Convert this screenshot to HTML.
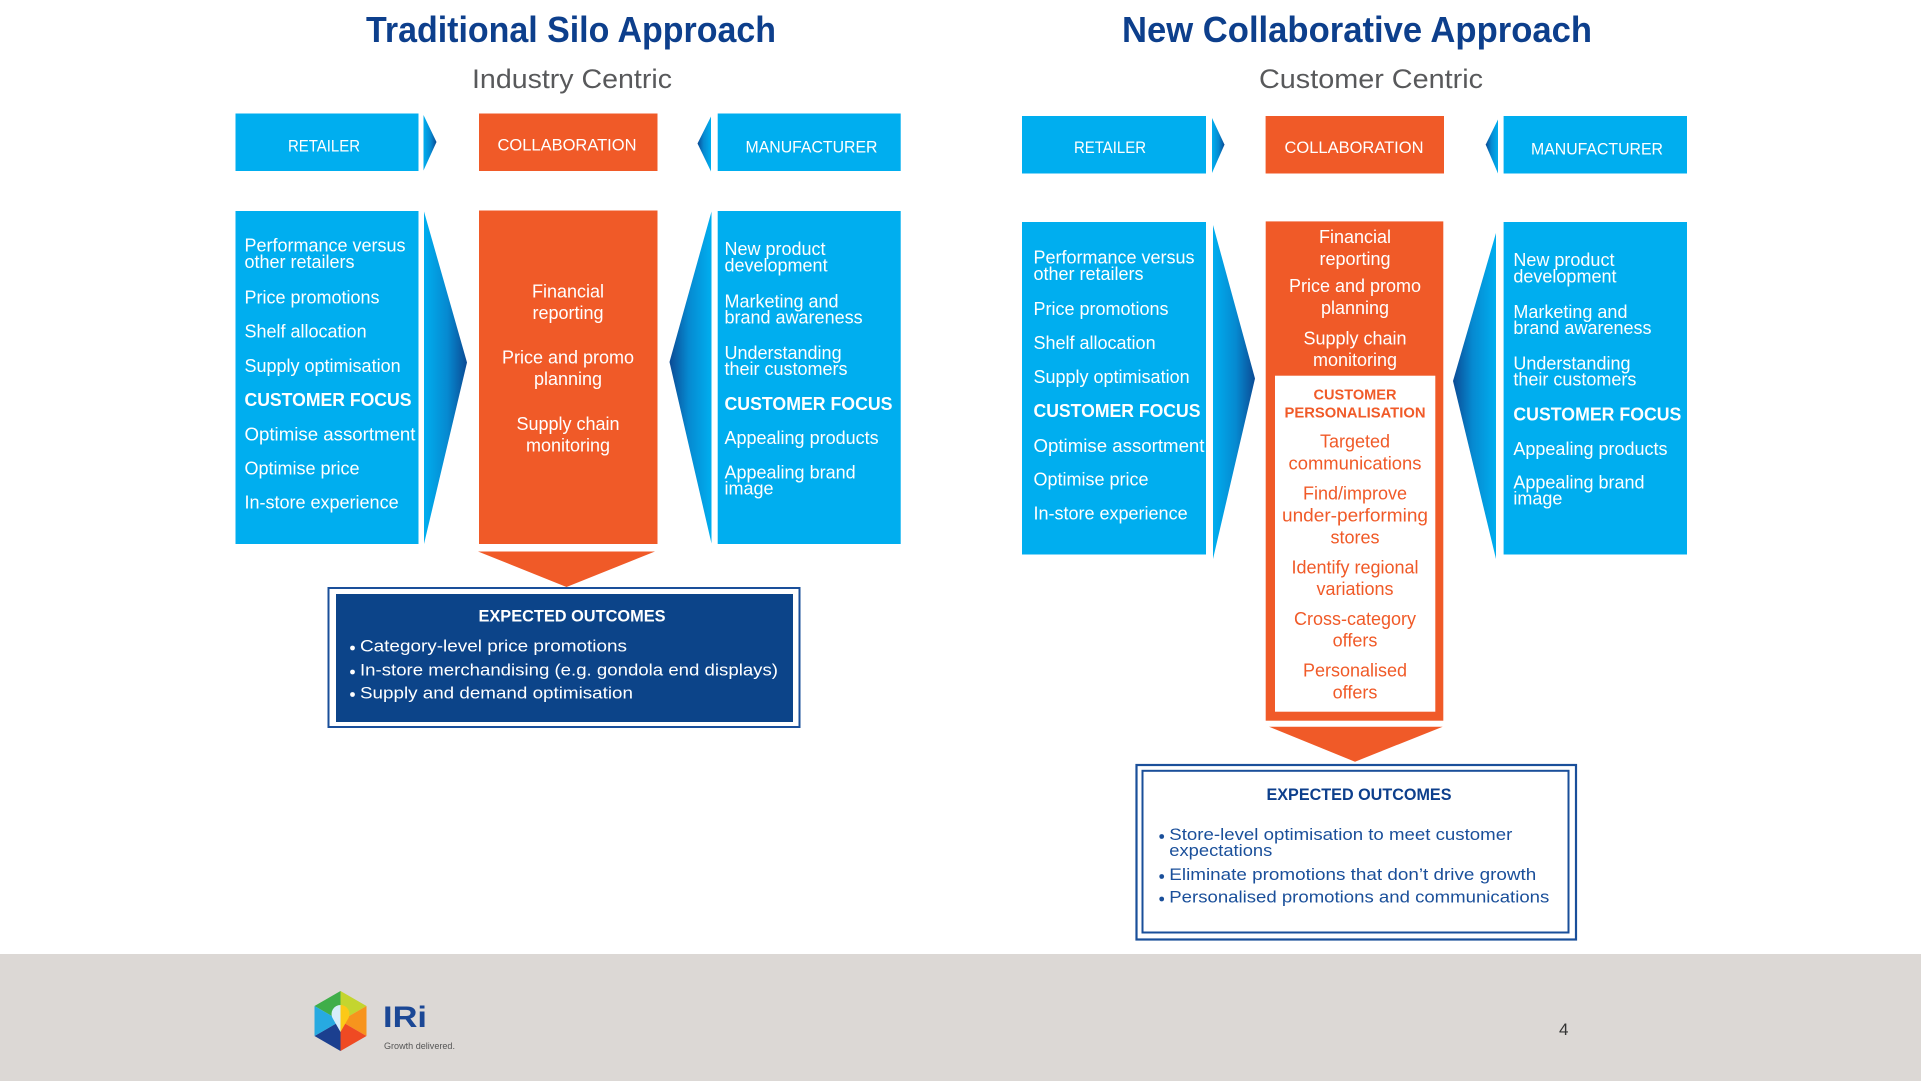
<!DOCTYPE html>
<html><head><meta charset="utf-8"><style>
html,body{margin:0;padding:0;background:#fff;}
svg{display:block;}
text{font-family:"Liberation Sans",Arial,sans-serif;}
</style></head><body>
<svg width="1921" height="1081" viewBox="0 0 1921 1081" xmlns="http://www.w3.org/2000/svg">
<defs>
<linearGradient id="gR" x1="0" y1="0" x2="1" y2="0">
<stop offset="0" stop-color="#00aeef"/><stop offset="0.55" stop-color="#0689d0"/><stop offset="1" stop-color="#0b4a94"/>
</linearGradient>
<linearGradient id="gL" x1="1" y1="0" x2="0" y2="0">
<stop offset="0" stop-color="#00aeef"/><stop offset="0.55" stop-color="#0689d0"/><stop offset="1" stop-color="#0b4a94"/>
</linearGradient>
</defs>
<rect width="1921" height="1081" fill="#fff"/>

<!-- ============ LEFT PANEL ============ -->
<text x="571" y="42" text-anchor="middle" font-size="36" font-weight="bold" fill="#0d3f8c" textLength="410" lengthAdjust="spacingAndGlyphs">Traditional Silo Approach</text>
<text x="572" y="88" text-anchor="middle" font-size="27" fill="#58595b" textLength="200" lengthAdjust="spacingAndGlyphs">Industry Centric</text>

<!-- header row -->
<rect x="235.5" y="113.5" width="183" height="57.5" fill="#00aeef"/>
<polygon points="423.5,115 436.5,142 423.5,170.5" fill="url(#gR)"/>
<rect x="479" y="113.5" width="178.5" height="57.5" fill="#f05a28"/>
<polygon points="711,116.5 697.5,143.5 711,171.5" fill="url(#gL)"/>
<rect x="717.7" y="113.5" width="183" height="57.5" fill="#00aeef"/>
<text x="324" y="151.5" text-anchor="middle" font-size="16.5" fill="#fff" textLength="72" lengthAdjust="spacingAndGlyphs">RETAILER</text>
<text x="567" y="150.5" text-anchor="middle" font-size="16.5" fill="#fff" textLength="139" lengthAdjust="spacingAndGlyphs">COLLABORATION</text>
<text x="811.5" y="152.5" text-anchor="middle" font-size="16.5" fill="#fff" textLength="132" lengthAdjust="spacingAndGlyphs">MANUFACTURER</text>

<!-- body row -->
<rect x="235.5" y="211" width="183" height="333" fill="#00aeef"/>
<polygon points="424,211.5 467,362.5 424,544" fill="url(#gR)"/>
<rect x="479" y="210.5" width="178.5" height="333.5" fill="#f05a28"/>
<polygon points="711.5,211.5 669.5,362 711.5,543.5" fill="url(#gL)"/>
<rect x="717.7" y="211" width="183" height="333" fill="#00aeef"/>

<g font-size="18" fill="#fff">
<text x="244.5" y="251.5">Performance versus</text>
<text x="244.5" y="268">other retailers</text>
<text x="244.5" y="303.5">Price promotions</text>
<text x="244.5" y="337.5">Shelf allocation</text>
<text x="244.5" y="372">Supply optimisation</text>
<text x="244.5" y="406" font-weight="bold" textLength="167" lengthAdjust="spacingAndGlyphs">CUSTOMER FOCUS</text>
<text x="244.5" y="440.5" textLength="171" lengthAdjust="spacingAndGlyphs">Optimise assortment</text>
<text x="244.5" y="474.5">Optimise price</text>
<text x="244.5" y="508.5">In-store experience</text>
</g>
<g font-size="18" fill="#fff" text-anchor="middle">
<text x="568" y="297.5">Financial</text>
<text x="568" y="319">reporting</text>
<text x="568" y="363.5">Price and promo</text>
<text x="568" y="385">planning</text>
<text x="568" y="430">Supply chain</text>
<text x="568" y="451.5">monitoring</text>
</g>
<g font-size="18" fill="#fff">
<text x="724.5" y="255">New product</text>
<text x="724.5" y="271.5">development</text>
<text x="724.5" y="307.5">Marketing and</text>
<text x="724.5" y="323.5">brand awareness</text>
<text x="724.5" y="359">Understanding</text>
<text x="724.5" y="375">their customers</text>
<text x="724.5" y="410" font-weight="bold" textLength="168" lengthAdjust="spacingAndGlyphs">CUSTOMER FOCUS</text>
<text x="724.5" y="444">Appealing products</text>
<text x="724.5" y="478.5">Appealing brand</text>
<text x="724.5" y="494.5">image</text>
</g>

<!-- down arrow + outcomes -->
<polygon points="478,551.5 655,551.5 566.5,587" fill="#f05a28"/>
<rect x="328.5" y="588" width="471" height="139" fill="#fff" stroke="#1a4f9a" stroke-width="2"/>
<rect x="336" y="594" width="457" height="128" fill="#0c4489"/>
<text x="572" y="621.5" text-anchor="middle" font-size="17" font-weight="bold" fill="#fff" textLength="187" lengthAdjust="spacingAndGlyphs">EXPECTED OUTCOMES</text>
<g font-size="17" fill="#fff">
<circle cx="352.5" cy="648" r="2.4"/>
<text x="360" y="651.7" textLength="267" lengthAdjust="spacingAndGlyphs">Category-level price promotions</text>
<circle cx="352.5" cy="672" r="2.4"/>
<text x="360" y="675.7" textLength="418" lengthAdjust="spacingAndGlyphs">In-store merchandising (e.g. gondola end displays)</text>
<circle cx="352.5" cy="694.5" r="2.4"/>
<text x="360" y="698.3" textLength="273" lengthAdjust="spacingAndGlyphs">Supply and demand optimisation</text>
</g>

<!-- ============ RIGHT PANEL ============ -->
<text x="1357" y="42" text-anchor="middle" font-size="36" font-weight="bold" fill="#0d3f8c" textLength="470" lengthAdjust="spacingAndGlyphs">New Collaborative Approach</text>
<text x="1371" y="88" text-anchor="middle" font-size="27" fill="#58595b" textLength="224" lengthAdjust="spacingAndGlyphs">Customer Centric</text>

<rect x="1022" y="116" width="184" height="57.5" fill="#00aeef"/>
<polygon points="1212,118 1224.5,144.6 1212,173" fill="url(#gR)"/>
<rect x="1265.6" y="116" width="178.4" height="57.5" fill="#f05a28"/>
<polygon points="1498,119.5 1485.7,144.6 1498,173.5" fill="url(#gL)"/>
<rect x="1503.6" y="116" width="183.4" height="57.5" fill="#00aeef"/>
<text x="1110" y="153" text-anchor="middle" font-size="16.5" fill="#fff" textLength="72" lengthAdjust="spacingAndGlyphs">RETAILER</text>
<text x="1354" y="153" text-anchor="middle" font-size="16.5" fill="#fff" textLength="139" lengthAdjust="spacingAndGlyphs">COLLABORATION</text>
<text x="1597" y="154.3" text-anchor="middle" font-size="16.5" fill="#fff" textLength="132" lengthAdjust="spacingAndGlyphs">MANUFACTURER</text>

<rect x="1022" y="222" width="184" height="332.5" fill="#00aeef"/>
<polygon points="1213,225 1255,378.5 1213,559" fill="url(#gR)"/>
<rect x="1265.7" y="221.4" width="177.6" height="499.3" fill="#f05a28"/>
<rect x="1275" y="375.7" width="160.3" height="336" fill="#fff"/>
<polygon points="1496,233 1453,381 1496,559" fill="url(#gL)"/>
<rect x="1503.6" y="222" width="183.4" height="332.5" fill="#00aeef"/>

<g font-size="18" fill="#fff">
<text x="1033.5" y="263.5">Performance versus</text>
<text x="1033.5" y="280">other retailers</text>
<text x="1033.5" y="315">Price promotions</text>
<text x="1033.5" y="349">Shelf allocation</text>
<text x="1033.5" y="383">Supply optimisation</text>
<text x="1033.5" y="417" font-weight="bold" textLength="167" lengthAdjust="spacingAndGlyphs">CUSTOMER FOCUS</text>
<text x="1033.5" y="451.8" textLength="171" lengthAdjust="spacingAndGlyphs">Optimise assortment</text>
<text x="1033.5" y="485.7">Optimise price</text>
<text x="1033.5" y="519.6">In-store experience</text>
</g>
<g font-size="18" fill="#fff" text-anchor="middle">
<text x="1355" y="243">Financial</text>
<text x="1355" y="265">reporting</text>
<text x="1355" y="292">Price and promo</text>
<text x="1355" y="314">planning</text>
<text x="1355" y="344.6">Supply chain</text>
<text x="1355" y="366">monitoring</text>
</g>
<g fill="#f05a28" text-anchor="middle">
<text x="1355" y="399.3" font-size="14.5" font-weight="bold" textLength="83" lengthAdjust="spacingAndGlyphs">CUSTOMER</text>
<text x="1355" y="417.3" font-size="14.5" font-weight="bold" textLength="141" lengthAdjust="spacingAndGlyphs">PERSONALISATION</text>
<g font-size="18">
<text x="1355" y="447.3">Targeted</text>
<text x="1355" y="469.3" textLength="133" lengthAdjust="spacingAndGlyphs">communications</text>
<text x="1355" y="499.3">Find/improve</text>
<text x="1355" y="521.7" textLength="146" lengthAdjust="spacingAndGlyphs">under-performing</text>
<text x="1355" y="543.3">stores</text>
<text x="1355" y="573.3">Identify regional</text>
<text x="1355" y="595">variations</text>
<text x="1355" y="625">Cross-category</text>
<text x="1355" y="646.7">offers</text>
<text x="1355" y="676.7">Personalised</text>
<text x="1355" y="698.3">offers</text>
</g>
</g>
<g font-size="18" fill="#fff">
<text x="1513.4" y="266">New product</text>
<text x="1513.4" y="282.5">development</text>
<text x="1513.4" y="318">Marketing and</text>
<text x="1513.4" y="334">brand awareness</text>
<text x="1513.4" y="369.6">Understanding</text>
<text x="1513.4" y="385.7">their customers</text>
<text x="1513.4" y="420.7" font-weight="bold" textLength="168" lengthAdjust="spacingAndGlyphs">CUSTOMER FOCUS</text>
<text x="1513.4" y="455">Appealing products</text>
<text x="1513.4" y="488.6">Appealing brand</text>
<text x="1513.4" y="504.5">image</text>
</g>

<polygon points="1269,726.7 1442.7,726.7 1355,761.7" fill="#f05a28"/>
<rect x="1136.5" y="765" width="439.5" height="174.5" fill="#fff" stroke="#1a4f9a" stroke-width="2.2"/>
<rect x="1142.5" y="770.8" width="426" height="161.7" fill="none" stroke="#1a4f9a" stroke-width="2"/>
<text x="1359" y="800" text-anchor="middle" font-size="16.5" font-weight="bold" fill="#0d3f8c" textLength="185" lengthAdjust="spacingAndGlyphs">EXPECTED OUTCOMES</text>
<g font-size="17" fill="#1a4f9a">
<circle cx="1161.7" cy="836.5" r="2.4"/>
<text x="1169.3" y="840" textLength="343" lengthAdjust="spacingAndGlyphs">Store-level optimisation to meet customer</text>
<text x="1169.3" y="856" textLength="103" lengthAdjust="spacingAndGlyphs">expectations</text>
<circle cx="1161.7" cy="876.5" r="2.4"/>
<text x="1169.3" y="880" textLength="367" lengthAdjust="spacingAndGlyphs">Eliminate promotions that don’t drive growth</text>
<circle cx="1161.7" cy="899" r="2.4"/>
<text x="1169.3" y="902.7" textLength="380" lengthAdjust="spacingAndGlyphs">Personalised promotions and communications</text>
</g>

<!-- ============ FOOTER ============ -->
<rect x="0" y="954" width="1921" height="127" fill="#dcd8d5"/>
<g>
<polygon points="340.5,1021 314.5,1006 340.5,991" fill="#3fae49"/>
<polygon points="340.5,1021 340.5,991 366.5,1006" fill="#c4d52f"/>
<polygon points="340.5,1021 366.5,1006 366.5,1036" fill="#f7941d"/>
<polygon points="340.5,1021 366.5,1036 340.5,1051" fill="#ef4a23"/>
<polygon points="340.5,1021 340.5,1051 314.5,1036" fill="#1b3f8f"/>
<polygon points="340.5,1021 314.5,1036 314.5,1006" fill="#27aae1"/>
<path d="M340.5,1005 a9,9 0 0 0 -8,13 L340.5,1032 Z" fill="#d6eefa"/>
<path d="M340.5,1005 a9,9 0 0 1 8,13 L340.5,1032 Z" fill="#fcc917"/>
</g>
<text x="383" y="1027" font-size="30" font-weight="bold" fill="#1b4795" textLength="44" lengthAdjust="spacingAndGlyphs">IRi</text>
<text x="384" y="1049" font-size="9" fill="#555" textLength="71" lengthAdjust="spacingAndGlyphs">Growth delivered.</text>
<text x="1559" y="1035" font-size="17" fill="#333">4</text>
</svg>
</body></html>
